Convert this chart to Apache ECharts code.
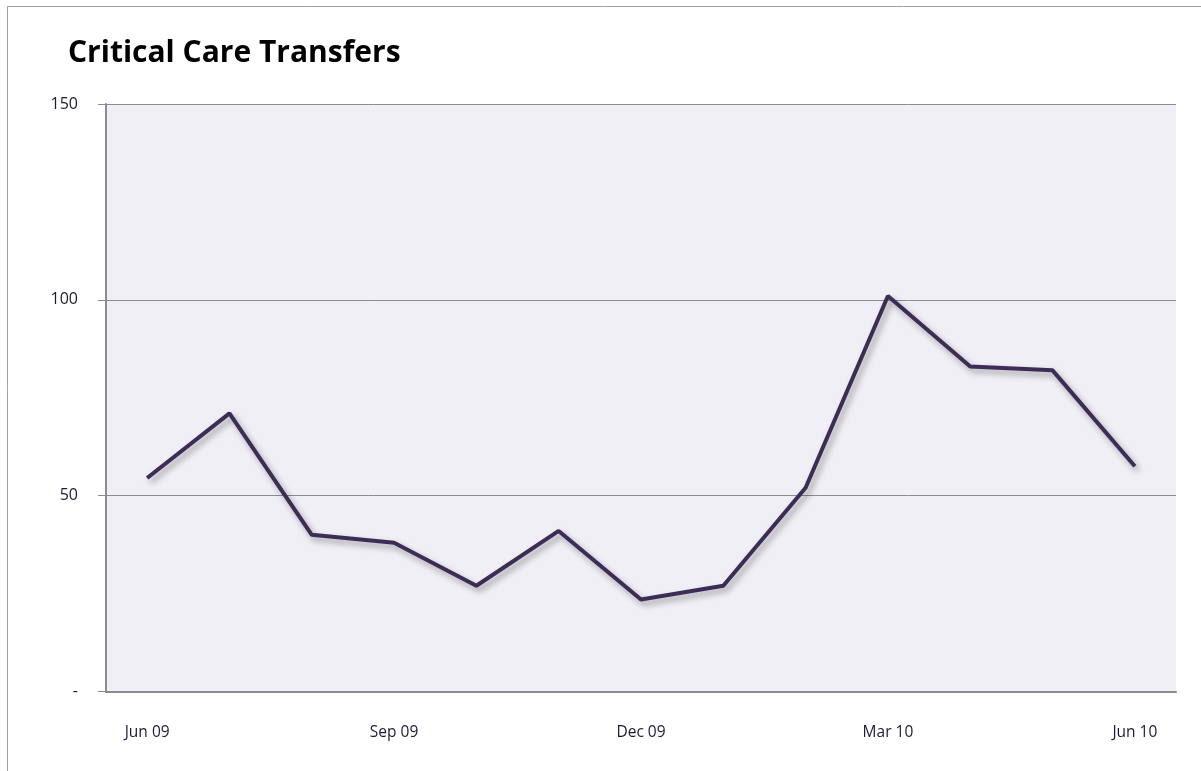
<!DOCTYPE html>
<html><head><meta charset="utf-8">
<script src="https://cdn.jsdelivr.net/npm/echarts@6/dist/echarts.min.js"></script>
<style>html,body{margin:0;padding:0;background:#fff;}#c{width:1201px;height:771px;}</style>
</head><body><div id="c"></div>
<script>
const categories = ['Jun 09','Jul 09','Aug 09','Sep 09','Oct 09','Nov 09','Dec 09','Jan 10','Feb 10','Mar 10','Apr 10','May 10','Jun 10'];
const transfers = [54.5, 71, 40, 38, 27, 41, 23.5, 27, 52, 101, 83, 82, 57.5];
const yTicks = [0, 50, 100, 150];

const chart = echarts.init(document.getElementById('c'));
chart.setOption({
  animation: false,
  graphic: [{type:'rect', shape:{x:7.5,y:6.5,width:1200,height:770}, style:{fill:'none',stroke:'#a0a0a0',lineWidth:1}, z:-1}],
  title: {text:'Critical Care Transfers', left:63, top:33, textStyle:{fontFamily:'Open Sans', fontWeight:'bold', fontSize:30, color:'#000'}},
  grid: {left:106, right:25, top:104, bottom:79.5, show:true, backgroundColor:'#f0eff5', borderWidth:0},
  xAxis: {type:'category', data:categories, boundaryGap:true,
    axisLine:{lineStyle:{color:'#8c8c8c', width:2}},
    axisTick:{alignWithLabel:true, length:7, lineStyle:{color:'#8c8c8c', width:2}},
    axisLabel:{interval:2, margin:33, fontFamily:'Open Sans', fontSize:15.5, color:'#1a1a3a'}},
  yAxis: {type:'value', min:0, max:150, interval:50,
    axisLine:{show:true, lineStyle:{color:'#8c8c8c', width:2}},
    axisTick:{show:true, length:8, lineStyle:{color:'#8c8c8c', width:1}},
    splitLine:{lineStyle:{color:'#8c8c8c', width:1}},
    axisLabel:{margin:28, fontFamily:'Open Sans', fontSize:16, color:'#1a1a3a',
      formatter: v => yTicks.includes(v) ? (v === 0 ? '-' : String(v)) : ''}},
  series: [{type:'line', data:transfers, symbol:'none',
    lineStyle:{color:'#3b2d55', width:4, shadowColor:'rgba(0,0,0,0.35)', shadowBlur:6, shadowOffsetX:3, shadowOffsetY:4}}]
});
</script></body></html>
